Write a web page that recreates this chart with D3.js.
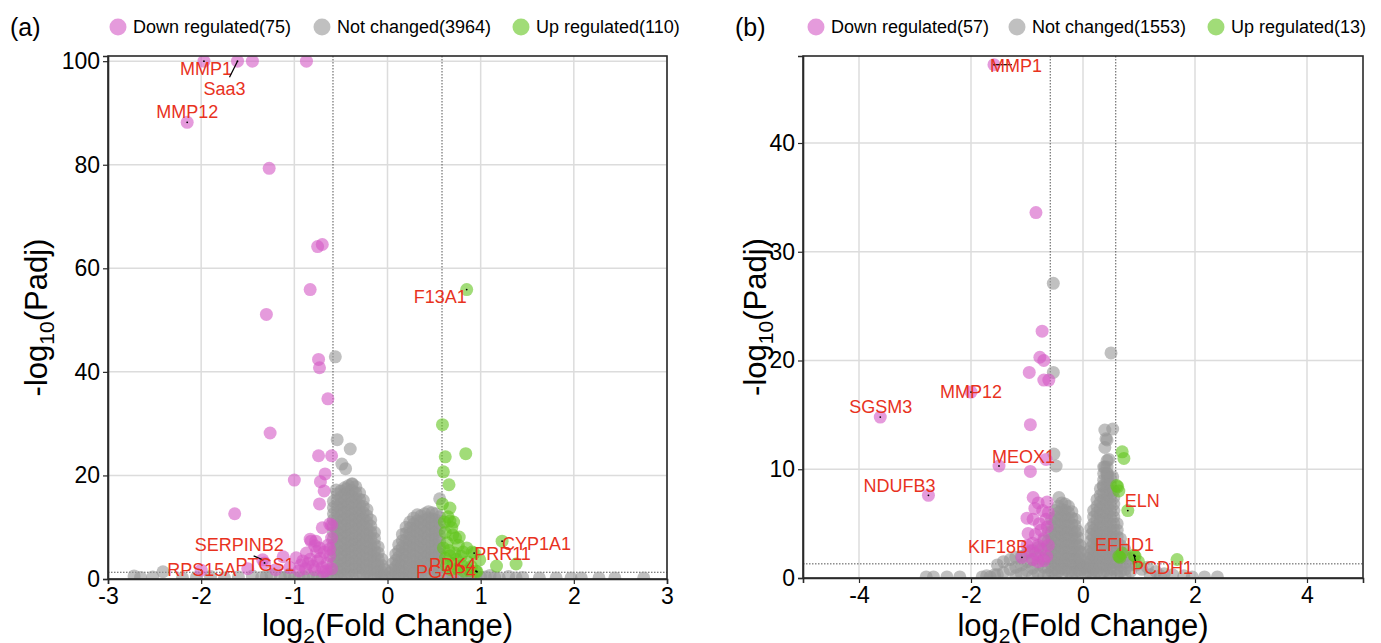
<!DOCTYPE html>
<html><head><meta charset="utf-8">
<script src="https://cdn.jsdelivr.net/npm/d3@7"></script>
<style>body{margin:0;background:#fff} svg{display:block} text{font-family:"Liberation Sans",Arial,sans-serif}</style>
</head><body><svg id="c" width="1381" height="643"></svg>
<script>
// ---------------- data ----------------
const panelTags = ["(a)", "(b)"];
const legendA = ["Down regulated(75)", "Not changed(3964)", "Up regulated(110)"];
const legendB = ["Down regulated(57)", "Not changed(1553)", "Up regulated(13)"];
const xTicksA = [-3, -2, -1, 0, 1, 2, 3];
const yTicksA = [0, 20, 40, 60, 80, 100];
const xTicksB = [-4, -2, 0, 2, 4];
const yTicksB = [0, 10, 20, 30, 40];
const fcCut = 0.585, padjCut = 1.301;

// panel (a) points [log2FC, -log10 padj]
const downA = [[-1.97,100],[-1.61,100],[-1.45,100],[-0.87,100],[-2.15,88.2],[-1.27,79.3],[-0.75,64.2],[-0.70,64.6],
[-0.83,55.9],[-1.30,51.1],[-0.74,42.4],[-0.73,40.8],[-0.64,34.8],[-1.26,28.2],[-0.74,23.8],[-0.60,23.8],[-1.00,19.1],
[-0.67,20.3],[-0.72,18.8],[-0.68,17.0],[-0.73,14.5],[-1.64,12.6],[-0.60,10.4],[-0.70,9.9],[-0.62,10.6],[-0.83,7.7],
[-0.77,7.3],[-0.60,7.9],[-0.82,7.3],[-0.78,6.4],[-0.87,5.0],[-1.12,4.3],[-0.98,4.1],[-0.91,3.5],[-1.32,3.1],[-1.34,3.7],
[-2.0,1.7],[-0.85,3.0],[-0.80,2.5],[-0.75,3.5],[-0.70,2.2],[-0.65,3.0],[-0.62,4.5],[-0.68,5.2],[-0.72,4.0],[-0.78,1.8],
[-0.88,2.0],[-0.95,1.6],[-1.05,2.2],[-0.66,1.6],[-0.60,2.0],[-0.73,6.0],[-0.64,6.5],[-1.20,1.8],[-1.50,2.0],[-0.76,5.3],
[-0.83,3.8],[-0.69,1.4],[-0.62,5.8],[-0.93,2.7]];
const upA = [[0.85,55.9],[0.59,29.8],[0.62,23.6],[0.84,24.2],[0.60,20.7],[0.66,18.2],[0.67,13.7],[0.59,14.5],[0.67,11.2],
[0.71,11.0],[0.69,9.9],[0.77,8.1],[0.73,7.9],[1.23,7.3],[0.93,5.0],[1.17,2.5],[1.38,2.9],[0.99,3.7],[0.91,5.2],[0.95,1.5],
[0.96,1.4],[0.79,4.4],[0.85,6.0],[0.62,9.0],[0.64,7.0],[0.66,5.5],[0.62,4.0],[0.70,3.0],[0.75,2.0],[0.68,1.8],[0.80,2.6],
[0.86,3.3],[0.72,5.0],[0.76,6.5],[0.63,2.5],[0.88,1.6],[0.82,1.5],[0.60,6.0],[0.70,8.5],[0.65,12.0],[0.61,11.0],[0.74,3.8],
[0.67,4.5],[0.81,5.2],[0.90,2.4]];
// scattered non-significant points of (a)
const nsA = [[-0.56,42.9],[-0.54,26.9],[-0.40,25.1],[-0.49,22.2],[-0.45,21.3],[-0.55,17.2],[-0.38,18.4],[-0.44,17.4],[0.56,15.5],
[-2.72,0.6],[-2.65,0.3],[-2.52,0.4],[-2.41,1.4],[-2.2,0.2],[-2.05,0.3],[-1.9,0.5],[-1.75,0.2],[-1.6,0.4],[-1.45,0.6],[-1.35,0.3],
[-1.25,0.8],[-1.15,0.4],[-1.05,0.9],[-0.95,0.3],[-0.85,0.7],[-0.75,0.5],[-0.65,0.9],[-0.61,0.2],[-1.0,0.2],[-0.9,0.4],[-0.8,0.2],
[-0.7,0.3],[-1.1,0.3],[-1.3,0.5],
[0.62,0.3],[0.7,0.8],[0.8,0.4],[0.9,0.9],[1.0,0.3],[1.1,0.7],[1.2,0.2],[1.3,0.5],[1.45,0.3],[1.63,0.2],[1.81,0.2],[1.97,0.2],
[2.08,0.2],[2.27,0.2],[2.44,0.2],[2.75,0.2],[0.66,0.5],[0.75,0.2],[0.85,0.5],[0.95,0.6],[1.05,0.4],[1.15,0.3],[1.38,0.2]];
// dense volcano body of (a): [log2FC, padj values...]
const nsColsA = [
[-0.58,15.0,13.8,12.6,11.4,10.2,9.0,7.8,6.6,5.4,4.2,3.0,1.8,0.6],
[-0.54,16.4,15.2,14.0,12.8,11.6,10.4,9.2,8.0,6.8,5.6,4.4,3.2,2.0,0.8],
[-0.50,17.0,15.8,14.6,13.4,12.2,11.0,9.8,8.6,7.4,6.2,5.0,3.8,2.6,1.4,0.2],
[-0.46,17.6,16.4,15.2,14.0,12.8,11.6,10.4,9.2,8.0,6.8,5.6,4.4,3.2,2.0,0.8],
[-0.42,18.0,16.8,15.6,14.4,13.2,12.0,10.8,9.6,8.4,7.2,6.0,4.8,3.6,2.4,1.2],
[-0.38,18.3,17.1,15.9,14.7,13.5,12.3,11.1,9.9,8.7,7.5,6.3,5.1,3.9,2.7,1.5,0.3],
[-0.34,17.8,16.6,15.4,14.2,13.0,11.8,10.6,9.4,8.2,7.0,5.8,4.6,3.4,2.2,1.0],
[-0.30,16.6,15.4,14.2,13.0,11.8,10.6,9.4,8.2,7.0,5.8,4.6,3.4,2.2,1.0],
[-0.26,15.2,14.0,12.8,11.6,10.4,9.2,8.0,6.8,5.6,4.4,3.2,2.0,0.8],
[-0.22,13.4,12.2,11.0,9.8,8.6,7.4,6.2,5.0,3.8,2.6,1.4,0.2],
[-0.18,11.4,10.2,9.0,7.8,6.6,5.4,4.2,3.0,1.8,0.6],
[-0.14,9.0,7.8,6.6,5.4,4.2,3.0,1.8,0.6],
[-0.10,6.2,5.0,3.8,2.6,1.4,0.2],
[-0.06,3.8,2.6,1.4,0.4],
[-0.03,1.8,0.6],
[0.03,1.2,0.2],
[0.06,3.0,1.8,0.6],
[0.09,4.8,3.6,2.4,1.2],
[0.12,6.6,5.4,4.2,3.0,1.8,0.6],
[0.16,8.6,7.4,6.2,5.0,3.8,2.6,1.4,0.2],
[0.20,10.0,8.8,7.6,6.4,5.2,4.0,2.8,1.6,0.4],
[0.24,11.0,9.8,8.6,7.4,6.2,5.0,3.8,2.6,1.4,0.2],
[0.28,11.8,10.6,9.4,8.2,7.0,5.8,4.6,3.4,2.2,1.0],
[0.32,12.4,11.2,10.0,8.8,7.6,6.4,5.2,4.0,2.8,1.6,0.4],
[0.36,12.2,11.0,9.8,8.6,7.4,6.2,5.0,3.8,2.6,1.4,0.2],
[0.40,12.6,11.4,10.2,9.0,7.8,6.6,5.4,4.2,3.0,1.8,0.6],
[0.44,13.0,11.8,10.6,9.4,8.2,7.0,5.8,4.6,3.4,2.2,1.0],
[0.48,12.8,11.6,10.4,9.2,8.0,6.8,5.6,4.4,3.2,2.0,0.8],
[0.52,12.6,11.4,10.2,9.0,7.8,6.6,5.4,4.2,3.0,1.8,0.6],
[0.56,12.0,10.8,9.6,8.4,7.2,6.0,4.8,3.6,2.4,1.2]];

// panel (b) points
const downB = [[-1.59,47.2],[-0.84,33.6],[-0.73,22.7],[-0.77,20.3],[-0.70,20.0],[-0.96,18.9],[-0.70,18.2],[-0.61,18.2],[-2.0,17.1],
[-3.62,14.8],[-0.94,14.1],[-1.50,10.3],[-0.66,10.9],[-0.94,9.8],[-2.76,7.6],[-1.09,1.9],[-0.89,7.4],[-0.80,6.9],[-0.64,7.0],
[-0.62,6.0],[-1.0,5.5],[-0.89,5.4],[-0.64,4.7],[-0.98,4.1],[-0.85,4.0],[-0.75,4.4],[-0.70,3.6],[-0.80,3.0],[-0.90,3.2],
[-0.95,2.5],[-0.85,2.2],[-0.75,2.6],[-0.65,2.0],[-0.70,1.6],[-0.80,1.5],[-0.62,3.0],[-0.90,1.7],[-1.0,3.0],[-0.66,5.4],
[-0.78,5.0],[-0.72,6.2],[-0.86,6.4]];
const upB = [[0.70,11.6],[0.73,11.0],[0.62,8.4],[0.60,8.5],[0.80,6.2],[0.66,1.9],[0.64,2.0],[0.93,2.0],[0.91,2.1],[1.68,1.7],
[0.64,8.0],[0.99,1.5],[0.70,2.3]];
const nsB = [[-0.53,27.1],[0.50,20.7],[-0.53,18.9],[0.53,13.7],[0.41,12.8],[-0.52,11.4],[-0.48,10.3],[0.46,10.9],[-0.43,7.4],
[0.39,13.6],[0.43,12.7],[0.39,12.0],[0.39,10.2],[0.43,9.6],[0.53,9.3],[0.36,8.5],[0.44,9.3],
[-1.66,0.1],[-1.8,0.1],[-2.2,0.1],[-2.43,0.1],[-2.67,0.1],[-2.8,0.1],[-1.58,0.3],[-1.72,0.2],
[0.95,1.2],[1.05,0.8],[1.15,1.0],[1.3,0.6],[1.45,0.4],[1.6,0.3],[1.8,0.2],[1.95,0.1],[2.17,0.1],[2.4,0.1],[1.2,0.3],[1.38,0.2]];
const nsColsB = [
[-1.53,1.2,0.3],[-1.42,1.5,0.5],[-1.3,1.7,0.8],[-1.2,1.9,1.0,0.2],[-1.1,2.0,1.2,0.4],[-1.0,2.3,1.5,0.7],
[-0.90,2.5,1.7,0.9,0.2],[-0.80,2.8,2.0,1.2,0.4],[-0.70,3.4,2.6,1.8,1.0,0.2],[-0.62,4.2,3.4,2.6,1.8,1.0,0.3],
[-0.56,5.4,4.8,4.2,3.6,3.0,2.4,1.8,1.2,0.6],
[-0.50,6.2,5.6,5.0,4.4,3.8,3.2,2.6,2.0,1.4,0.8,0.2],
[-0.44,6.6,6.0,5.4,4.8,4.2,3.6,3.0,2.4,1.8,1.2,0.6],
[-0.38,6.9,6.3,5.7,5.1,4.5,3.9,3.3,2.7,2.1,1.5,0.9,0.3],
[-0.32,6.8,6.2,5.6,5.0,4.4,3.8,3.2,2.6,2.0,1.4,0.8],
[-0.26,6.6,6.0,5.4,4.8,4.2,3.6,3.0,2.4,1.8,1.2,0.6],
[-0.20,6.1,5.5,4.9,4.3,3.7,3.1,2.5,1.9,1.3,0.7,0.1],
[-0.14,5.4,4.8,4.2,3.6,3.0,2.4,1.8,1.2,0.6],
[-0.09,4.3,3.7,3.1,2.5,1.9,1.3,0.7],
[-0.05,3.0,2.4,1.8,1.2,0.6],
[-0.02,1.4,0.8],
[0.04,1.0,0.4],
[0.09,2.4,1.8,1.2,0.6],
[0.14,4.6,4.0,3.4,2.8,2.2,1.6,1.0,0.4],
[0.19,6.2,5.6,5.0,4.4,3.8,3.2,2.6,2.0,1.4,0.8,0.2],
[0.25,7.2,6.6,6.0,5.4,4.8,4.2,3.6,3.0,2.4,1.8,1.2,0.6],
[0.31,8.2,7.6,7.0,6.4,5.8,5.2,4.6,4.0,3.4,2.8,2.2,1.6,1.0,0.4],
[0.37,10.2,9.6,9.0,8.4,7.8,7.2,6.6,6.0,5.4,4.8,4.2,3.6,3.0,2.4,1.8,1.2,0.6],
[0.43,10.8,10.2,9.6,9.0,8.4,7.8,7.2,6.6,6.0,5.4,4.8,4.2,3.6,3.0,2.4,1.8,1.2,0.6],
[0.49,9.2,8.6,8.0,7.4,6.8,6.2,5.6,5.0,4.4,3.8,3.2,2.6,2.0,1.4,0.8,0.2],
[0.55,8.0,7.4,6.8,6.2,5.6,5.0,4.4,3.8,3.2,2.6,2.0,1.4,0.8],
[0.61,5.0,4.4,3.8,3.2,2.6,2.0,1.4,0.8,0.2],
[0.67,3.6,3.0,2.4,1.8,1.2,0.6],
[0.75,2.6,2.0,1.4,0.8,0.2],
[0.85,1.8,1.2,0.6]];

// labelled genes: [name, log2FC, -log10 padj]
const genesA = [["MMP1",-1.97,100],["Saa3",-1.61,100],["MMP12",-2.15,88.2],["F13A1",0.85,55.9],["CYP1A1",1.23,7.3],
["PRR11",0.93,5.0],["PDK4",0.96,1.4],["PGAP4",0.95,1.5],["SERPINB2",-1.34,3.7],["PTGS1",-1.32,3.1],["RPS15A",-2.0,1.7]];
const genesB = [["MMP1",-1.59,47.2],["SGSM3",-3.62,14.8],["MMP12",-2.0,17.1],["MEOX1",-1.50,10.3],["NDUFB3",-2.76,7.6],
["KIF18B",-1.09,1.9],["ELN",0.80,6.2],["EFHD1",0.93,2.0],["PCDH1",0.91,2.1]];

// ---------------- layout (pixel offsets of labels, not data) ----------------
const labelLayoutA = {MMP1:[-24,14],Saa3:[-34,34,-8,16],MMP12:[-31,-4],F13A1:[-53,13],CYP1A1:[0,9],PRR11:[0,7],
  PDK4:[-48,-1],PGAP4:[-60,7],SERPINB2:[-68,-9,-9,-4],PTGS1:[-29,8],RPS15A:[-34,6]};
const labelLayoutB = {MMP1:[-4,7,18,0],SGSM3:[-31,-4],MMP12:[-31,6],MEOX1:[-7,-3],NDUFB3:[-65,-3],KIF18B:[-54,-4],
  ELN:[-3,-4],EFHD1:[-40,-5],PCDH1:[-2,19,2,8]};

const colors = {down:"rgb(212,88,196)", ns:"rgb(150,150,150)", up:"rgb(98,196,30)"};
const svg = d3.select("#c");
const expand = cols => cols.flatMap(c => c.slice(1).map(v => [c[0], v]));

function panel(cfg){
  const x = d3.scaleLinear().domain(cfg.xd).range(cfg.xr);
  const y = d3.scaleLinear().domain(cfg.yd).range(cfg.yr);
  const g = svg.append("g");
  const [x0,x1] = cfg.xr, [y0,y1] = [cfg.yr[1], cfg.yr[0]];
  const clipId = "clip"+cfg.id;
  g.append("clipPath").attr("id",clipId).append("rect").attr("x",x0).attr("y",y0).attr("width",x1-x0).attr("height",y1-y0);
  // grid
  g.append("g").selectAll("line").data(cfg.xt).join("line")
    .attr("x1",d=>x(d)).attr("x2",d=>x(d)).attr("y1",y0).attr("y2",y1)
    .attr("stroke","#dcdcdc").attr("stroke-width",1.5);
  g.append("g").selectAll("line").data(cfg.yt).join("line")
    .attr("y1",d=>y(d)).attr("y2",d=>y(d)).attr("x1",x0).attr("x2",x1)
    .attr("stroke","#dcdcdc").attr("stroke-width",1.5);
  // thresholds
  const th = g.append("g").attr("stroke","#555").attr("stroke-width",1).attr("stroke-dasharray","1.5,1.5");
  [-fcCut, fcCut].forEach(v=>th.append("line").attr("x1",x(v)).attr("x2",x(v)).attr("y1",y0).attr("y2",y1));
  th.append("line").attr("x1",x0).attr("x2",x1).attr("y1",y(padjCut)).attr("y2",y(padjCut));
  // points
  const pts = g.append("g").attr("clip-path",`url(#${clipId})`);
  [["ns",cfg.ns.concat(expand(cfg.nsCols))],["down",cfg.down],["up",cfg.up]].forEach(([k,arr])=>{
    pts.append("g").selectAll("circle").data(arr).join("circle")
      .attr("cx",d=>x(d[0])).attr("cy",d=>y(d[1])).attr("r",6.5)
      .attr("fill",colors[k]).attr("fill-opacity",0.6);
  });
  // frame + axes
  g.append("rect").attr("x",x0).attr("y",y0).attr("width",x1-x0).attr("height",y1-y0)
    .attr("fill","none").attr("stroke","#2a2a2a").attr("stroke-width",1.6);
  const ax = g.append("g").attr("transform",`translate(0,${y1})`)
    .call(d3.axisBottom(x).tickValues(cfg.xt).tickSize(5).tickPadding(4).tickFormat(d3.format("d")));
  const ay = g.append("g").attr("transform",`translate(${x0},0)`)
    .call(d3.axisLeft(y).tickValues(cfg.yt).tickSize(5).tickPadding(3).tickFormat(d3.format("d")));
  [ax,ay].forEach(a=>{
    a.select(".domain").attr("stroke","#2a2a2a").attr("stroke-width",1.6);
    a.selectAll(".tick line").attr("stroke","#2a2a2a").attr("stroke-width",1.2);
    a.selectAll(".tick text").attr("fill","#000").style("font-size","23px").style("font-family",'"Liberation Sans",Arial,sans-serif');
  });
  ax.selectAll(".tick text").text(d=>d<0?"-"+Math.abs(d):d);
  // labels
  const lg = g.append("g");
  cfg.genes.forEach(([name,gx,gy])=>{
    const px = x(gx), py = y(gy), lay = cfg.lay[name];
    if(lay.length>2) lg.append("line").attr("x1",px).attr("y1",py).attr("x2",px+lay[2]).attr("y2",py+lay[3])
      .attr("stroke","#000").attr("stroke-width",1.2);
    lg.append("circle").attr("cx",px).attr("cy",py).attr("r",0.9).attr("fill","#000");
    lg.append("text").attr("x",px+lay[0]).attr("y",py+lay[1]).text(name)
      .attr("fill","#e8321e").style("font-size","18px");
  });
  // axis titles
  const xt = g.append("text").attr("x",(x0+x1)/2).attr("y",636).attr("text-anchor","middle").style("font-size","31px").attr("fill","#000");
  xt.append("tspan").text("log");
  xt.append("tspan").text("2").attr("dy",7).style("font-size","21px");
  xt.append("tspan").text("(Fold Change)").attr("dy",-7);
  const yt = g.append("text").attr("transform",`translate(${cfg.ytx},${(y0+y1)/2}) rotate(-90)`).attr("text-anchor","middle")
    .style("font-size","31px").attr("fill","#000");
  yt.append("tspan").text("-log");
  yt.append("tspan").text("10").attr("dy",7).style("font-size","21px");
  yt.append("tspan").text("(Padj)").attr("dy",-7);
  // tag and legend
  g.append("text").attr("x",cfg.tagx).attr("y",36).text(cfg.tag).style("font-size","25px").attr("fill","#000");
  const keys = ["down","ns","up"];
  cfg.legend.forEach((t,i)=>{
    g.append("circle").attr("cx",cfg.legx[i]).attr("cy",27).attr("r",8.5).attr("fill",colors[keys[i]]).attr("fill-opacity",0.6);
    g.append("text").attr("x",cfg.legx[i]+15).attr("y",33).text(t).style("font-size","18px").attr("fill","#000");
  });
}

panel({id:"A", xd:[-3,3], xr:[108,667], yd:[0,101], yr:[579,56], xt:xTicksA, yt:yTicksA,
  ns:nsA, nsCols:nsColsA, down:downA, up:upA, genes:genesA, lay:labelLayoutA, ytx:47, tag:panelTags[0], tagx:10,
  legend:legendA, legx:[118,322,521]});
panel({id:"B", xd:[-5,5], xr:[803,1363], yd:[0,48], yr:[578,56], xt:xTicksB, yt:yTicksB,
  ns:nsB, nsCols:nsColsB, down:downB, up:upB, genes:genesB, lay:labelLayoutB, ytx:766, tag:panelTags[1], tagx:735,
  legend:legendB, legx:[816,1017,1216]});
</script></body></html>
